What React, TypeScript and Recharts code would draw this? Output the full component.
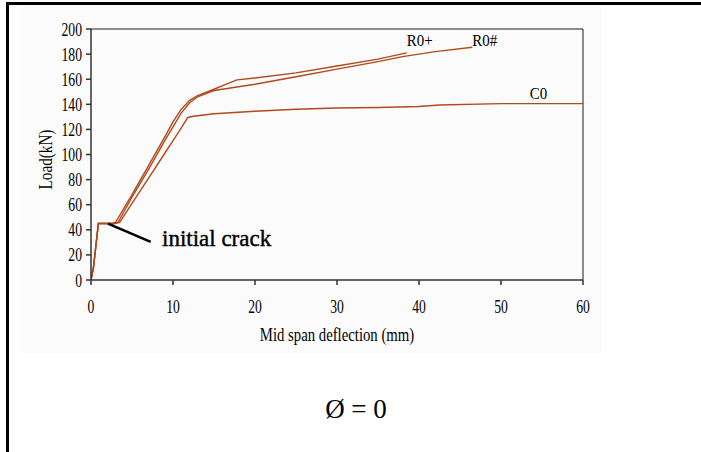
import React from 'react';
import { LineChart, Line, XAxis, YAxis, ReferenceLine, ReferenceDot } from 'recharts';

const xTicks = [0, 10, 20, 30, 40, 50, 60];
const yTicks = [0, 20, 40, 60, 80, 100, 120, 140, 160, 180, 200];

const r0PlusDeflection = [0, 0.3, 0.9, 2.6, 3.0, 5, 7, 9, 10, 11, 12, 13, 15, 16.5, 17.8, 20, 25, 30, 35, 38.5];
const r0PlusLoad = [0, 10, 45, 45, 46, 68, 91, 114, 126, 136, 143, 147, 152, 156, 159.5, 161, 165, 170.5, 176, 181];

const r0HashDeflection = [0, 0.3, 0.9, 2.8, 3.3, 5, 7, 9, 10, 11, 12, 13, 15, 18, 20, 25, 30, 35, 38, 42, 46.5];
const r0HashLoad = [0, 10, 45, 45, 46, 66, 88, 111, 122, 133, 141, 146, 151, 154, 156, 162, 168, 174, 178, 182, 185.5];

const c0Deflection = [0, 0.3, 0.9, 2.9, 3.5, 5, 7, 9, 10, 11, 11.8, 12.5, 15, 20, 25, 30, 35, 40, 42.5, 50, 60];
const c0Load = [0, 10, 45, 45, 46, 61, 81, 101, 111, 121, 129.5, 130.5, 132.5, 134.5, 136, 137, 137.5, 138.3, 139.5, 140.5, 140.5];

const seriesNames = ['R0+', 'R0#', 'C0'];
const seriesLabelX = [38.5, 46.5, 53.5];
const seriesLabelY = [186.4, 186.4, 144];

const crackPointer = [
  { x: 2.07, y: 45 },
  { x: 7.28, y: 30.3 },
];
const crackText = 'initial crack';
const crackTextPos = { x: 8.66, y: 26.7 };

const toPoints = (xs: number[], ys: number[]) => xs.map((x, i) => ({ x, y: ys[i] }));
const r0Plus = toPoints(r0PlusDeflection, r0PlusLoad);
const r0Hash = toPoints(r0HashDeflection, r0HashLoad);
const c0 = toPoints(c0Deflection, c0Load);

const SERIF = "'Liberation Serif', 'Times New Roman', Times, serif";
const serifStyle = { fontFamily: SERIF } as React.CSSProperties;
const LINE_COLOR = '#b04a1c';

const XTick = (props: any) => {
  const { x, y, payload } = props;
  return (
    <text
      transform={`translate(${x},${y + 26}) scale(0.72,1)`}
      textAnchor="middle"
      style={serifStyle}
      fontSize={19}
      fill="#000"
    >
      {payload.value}
    </text>
  );
};

const YTick = (props: any) => {
  const { x, y, payload } = props;
  return (
    <text
      transform={`translate(${x},${y + 6.5}) scale(0.72,1)`}
      textAnchor="end"
      style={serifStyle}
      fontSize={19}
      fill="#000"
    >
      {payload.value}
    </text>
  );
};

const XLabel = (props: any) => {
  const vb = props.viewBox || { x: 0, y: 0, width: 0, height: 0 };
  return (
    <text
      transform={`translate(${vb.x + vb.width / 2},${vb.y + 61}) scale(0.82,1)`}
      textAnchor="middle"
      style={serifStyle}
      fontSize={18}
      fill="#000"
    >
      Mid span deflection (mm)
    </text>
  );
};

const YLabel = (props: any) => {
  const vb = props.viewBox || { x: 0, y: 0, width: 0, height: 0 };
  return (
    <text
      transform={`translate(${vb.x + 21},${vb.y + vb.height / 2 + 5}) rotate(-90) scale(0.8,1)`}
      textAnchor="middle"
      style={serifStyle}
      fontSize={19}
      fill="#000"
    >
      Load(kN)
    </text>
  );
};

const makeSeriesLabel = (text: string) => (props: any) => {
  const vb = props.viewBox || { x: 0, y: 0 };
  return (
    <text
      transform={`translate(${vb.x},${vb.y}) scale(0.88,1)`}
      textAnchor="start"
      style={serifStyle}
      fontSize={17}
      fill="#000"
    >
      {text}
    </text>
  );
};

const CrackLabel = (props: any) => {
  const vb = props.viewBox || { x: 0, y: 0 };
  return (
    <text
      x={vb.x}
      y={vb.y}
      textAnchor="start"
      style={{ fontFamily: SERIF, fontSize: 23 }}
      fill="#000"
      stroke="#000"
      strokeWidth={0.4}
    >
      {crackText}
    </text>
  );
};

export default function App() {
  return (
    <div
      style={{
        position: 'absolute',
        left: 0,
        top: 0,
        width: 701,
        height: 452,
        background: '#fff',
        overflow: 'hidden',
      }}
    >
      <div
        style={{
          position: 'absolute',
          left: 20,
          top: 5,
          width: 582,
          height: 348,
          background: '#fbfbfb',
        }}
      />
      <div
        style={{
          position: 'absolute',
          left: 6,
          top: 2,
          width: 720,
          height: 480,
          borderLeft: '3px solid #000',
          borderTop: '3px solid #000',
        }}
      />
      <div style={{ position: 'absolute', left: 0, top: 0 }}>
        <LineChart
          width={701}
          height={452}
          margin={{ top: 29, right: 118, bottom: 142, left: 31 }}
        >
          <XAxis
            type="number"
            dataKey="x"
            domain={[0, 60]}
            ticks={xTicks}
            interval={0}
            allowDataOverflow
            tickSize={5}
            tickMargin={2}
            height={30}
            axisLine={{ stroke: '#333', strokeWidth: 1.5 }}
            tickLine={{ stroke: '#333', strokeWidth: 1.5 }}
            tick={<XTick />}
            label={{ content: <XLabel /> } as any}
          />
          <YAxis
            type="number"
            dataKey="y"
            domain={[0, 200]}
            ticks={yTicks}
            interval={0}
            allowDataOverflow
            width={60}
            tickSize={5}
            tickMargin={4}
            axisLine={{ stroke: '#333', strokeWidth: 1.5 }}
            tickLine={{ stroke: '#333', strokeWidth: 1.5 }}
            tick={<YTick />}
            label={{ content: <YLabel /> } as any}
          />
          <ReferenceLine y={200} stroke="#666" strokeWidth={1.5} />
          <ReferenceLine x={60} stroke="#666" strokeWidth={1.5} />
          <Line
            data={c0}
            dataKey="y"
            type="linear"
            stroke={LINE_COLOR}
            strokeWidth={1.4}
            dot={false}
            isAnimationActive={false}
          />
          <Line
            data={r0Hash}
            dataKey="y"
            type="linear"
            stroke={LINE_COLOR}
            strokeWidth={1.4}
            dot={false}
            isAnimationActive={false}
          />
          <Line
            data={r0Plus}
            dataKey="y"
            type="linear"
            stroke={LINE_COLOR}
            strokeWidth={1.4}
            dot={false}
            isAnimationActive={false}
          />
          <ReferenceLine segment={crackPointer} stroke="#000" strokeWidth={2.5} />
          {seriesNames.map((name, i) => (
            <ReferenceDot
              key={name}
              x={seriesLabelX[i]}
              y={seriesLabelY[i]}
              r={0}
              fill="none"
              stroke="none"
              label={{ content: makeSeriesLabel(name) } as any}
            />
          ))}
          <ReferenceDot
            x={crackTextPos.x}
            y={crackTextPos.y}
            r={0}
            fill="none"
            stroke="none"
            label={{ content: <CrackLabel /> } as any}
          />
        </LineChart>
      </div>
      <svg
        width={701}
        height={452}
        style={{ position: 'absolute', left: 0, top: 0, pointerEvents: 'none' }}
      >
        <text x={356} y={418} textAnchor="middle" style={{ fontFamily: SERIF, fontSize: 27 }} fill="#000">
          Ø = 0
        </text>
      </svg>
    </div>
  );
}
